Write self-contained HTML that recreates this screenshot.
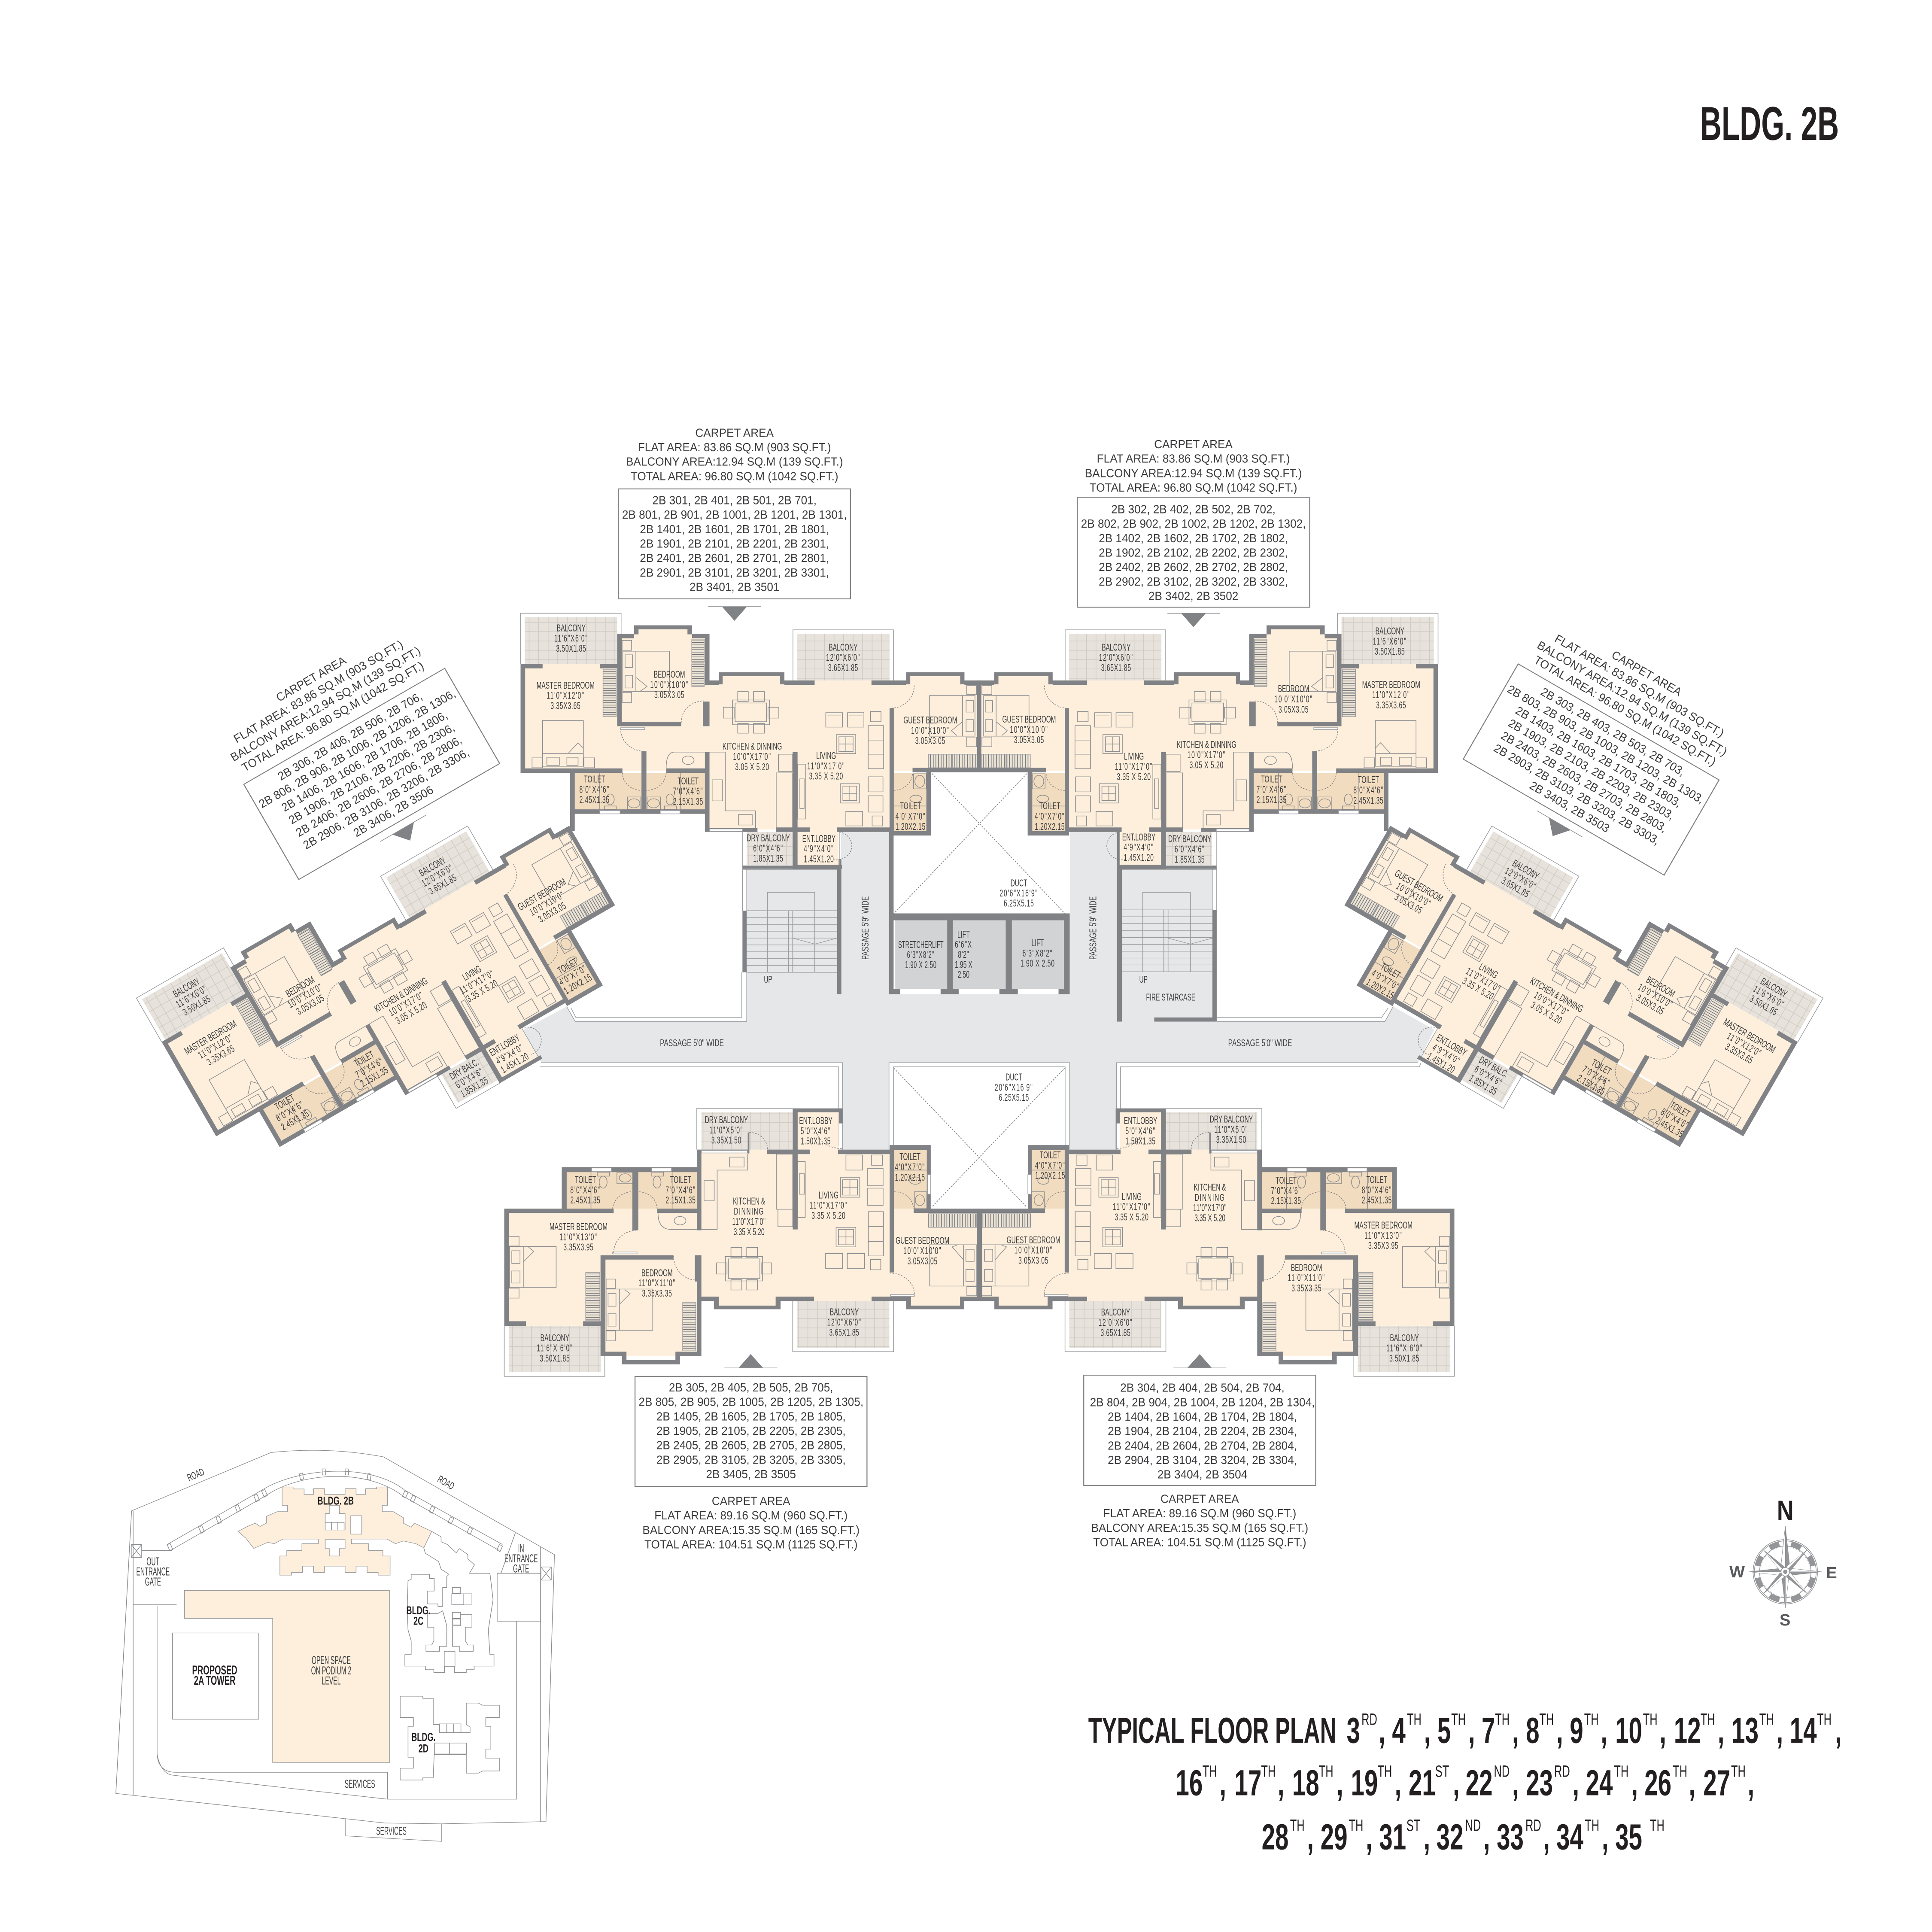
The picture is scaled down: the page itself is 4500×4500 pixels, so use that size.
<!DOCTYPE html>
<html><head><meta charset="utf-8"><title>Bldg 2B Typical Floor Plan</title>
<style>
html,body{margin:0;padding:0;background:#fff}
svg{display:block}
text{font-family:"Liberation Sans",sans-serif;fill:#3c3c3e;text-anchor:middle}
.w{fill:#808285;stroke:none}
.l{fill:none;stroke:#9a9b9e;stroke-width:2}
.k{fill:none;stroke:#8a8b8e;stroke-width:2}
.d{fill:none;stroke:#808285;stroke-width:2;stroke-dasharray:5 4}
.r text,text.r{font-size:33.5px}
.r text tspan:nth-child(2){letter-spacing:3.8px}
.r text tspan:nth-child(3){letter-spacing:1.6px}
.i text{font-size:39px;fill:#3c3c3e}
.p text,text.p{font-size:23.5px}
.p text tspan:nth-child(2){letter-spacing:2.7px}
.p text tspan:nth-child(3){letter-spacing:1.2px}
.s text{font-size:42px}
</style></head><body>
<svg xmlns="http://www.w3.org/2000/svg" width="4500" height="4500" viewBox="0 0 4500 4500">
<defs>
<pattern id="tile" width="29" height="31" patternUnits="userSpaceOnUse"><rect width="29" height="31" fill="#e7e3dc"/><path d="M28 0V31M0 30H29" stroke="#cfcbc2" stroke-width="2" fill="none"/></pattern>
<pattern id="wh" width="20" height="8" patternUnits="userSpaceOnUse"><rect width="20" height="8" fill="#ece4d6"/><path d="M0 3H20" stroke="#6d6e71" stroke-width="2"/></pattern>
<pattern id="wv" width="8" height="20" patternUnits="userSpaceOnUse"><rect width="8" height="20" fill="#ece4d6"/><path d="M3 0V20" stroke="#6d6e71" stroke-width="2"/></pattern>

<g id="U1" transform="translate(1100 950) scale(.7653 .7015)">
<path fill="#fdefdc" d="M147 850H441V750H492V735H669V750H722V905H750V890H950V905H1320V890H1498V905H1543V1205H1283V1400H1115V1517H985V1400H868V1400H722V1205H147Z"/>
<path fill="#f2dcbf" d="M312 1212H515V1333H312ZM530 1212H708V1333H530ZM1283 1212H1382V1405H1283Z"/>
<rect x="160" y="695" width="281" height="155" fill="url(#tile)"/>
<rect x="989" y="750" width="281" height="155" fill="url(#tile)"/>
<rect x="835" y="1408" width="140" height="109" fill="url(#tile)"/>
<path class="l" d="M147 850V682H453V850M976 905V737H1282V905M822 1408V1530H975M1117 1408V1517"/>
<path fill="url(#wh)" d="M398 868H438V945H398ZM398 948H438V1025H398ZM668 768H706V845H668ZM668 850H706V925H668Z"/>
<path fill="url(#wv)" d="M1388 1150H1460V1195H1388ZM1462 1150H1537V1195H1462Z"/>
<path class="l" d="M398 868H438V945H398ZM398 948H438V1025H398ZM668 768H706V845H668ZM668 850H706V925H668ZM1388 1150H1460V1195H1388ZM1462 1150H1537V1195H1462Z"/>
<path class="k" d="M800 980h96v62h-96zM792 970h113v82H792zM808 942h32v33h-32zM856 942h33v33h-33zM764 994h33v36h-33zM900 994h33v36h-33zM808 1048h32v32h-32zM856 1048h33v32h-33z
M1205 1055h47v143h-47zM1205 1103h47M1205 1150h47M1076 1012h51v48h-51zM1081 1020h41M1142 1012h50v48h-50zM1147 1020h40M1212 1008h32v34h-32zM1108 1085h59v63h-59zM1116 1092h43v49h-43zM1137 1092v49M1116 1116h43
M1120 1248h58v64h-58zM1128 1256h42v48h-42zM1149 1256v48M1128 1280h42M1205 1225h45v50h-45zM1205 1288h45v54h-45zM1137 1340h51v48h-51zM1217 1355h31v33h-31z
M722 1143H770V1338H862V1395M730 1235h32v70h-32zM810 1350h42v35h-42zM932 1150h43v57h-43zM925 1212h50v183h-50zM990 1183h25v182h-25zM997 1232h13v98h-13z
M722 1143H615Q590 1143 590 1197
M214 1038h124v152H214zM214 1148h124M227 1160h38v27h-38zM288 1160h34v27h-34zM182 1162h32v33h-32zM340 1162h32v33h-32zM293 1146L322 1112L338 1130
M458 808h142v134H458zM498 808v134M465 820h23v42h-23zM465 888h23v42h-23zM456 772h29v33h-29zM456 945h29v33h-29zM498 895L532 925L512 940
M1392 955h138v135h-138zM1492 955v135M1503 972h22v38h-22zM1503 1035h22v40h-22zM1505 922h30v30h-30zM1505 1093h30v32h-30zM1492 1042L1458 1072L1475 1088
M388 1212v121M633 1212v121M472 1292h41v41h-41zM532 1292h41v41h-41zM1343 1215h39v50h-39zM1283 1322h99M402 1322h36v11h-36zM585 1322h36v11h-36z"/>
<ellipse class="k" cx="657" cy="1170" rx="18" ry="14"/><ellipse class="k" cx="420" cy="1300" rx="12" ry="18"/><ellipse class="k" cx="602" cy="1300" rx="12" ry="18"/><ellipse class="k" cx="492" cy="1313" rx="18" ry="15"/><ellipse class="k" cx="552" cy="1313" rx="18" ry="15"/><ellipse class="k" cx="1362" cy="1240" rx="15" ry="20"/><ellipse class="k" cx="1350" cy="1298" rx="18" ry="12"/>
<path class="w" d="M147 850h14v362h-14zM147 1197h310v15H147zM298 1197h14v150h-14zM298 1333h424v15H298zM515 1140h15v193h-15zM147 850h67v15h-67zM388 850h53v15h-53zM590 1197h132v15H590zM708 1143h14v265h-14zM708 1395h160v13H708zM924 1393h51v15h-51zM975 1143h15v387h-15zM990 1393h37v15h-37zM1110 1393h160v15h-160zM975 1517h150v13H975z
M441 750h14v305h-14zM441 750h51v15h-51zM492 722h14v30h-14zM492 722h177v13H492zM655 722h14v30h-14zM669 750h53v15h-53zM441 1042h195v15H441zM708 750h14v170h-14zM702 975h20v82h-20z
M722 905h28v15h-28zM750 878h200v13H750zM750 878h12v40h-12zM937 878h13v40h-13zM950 905h92v15h-92zM1215 905h105v15h-105zM1320 878h178v13h-178zM1320 878h13v40h-13zM1485 878h13v40h-13zM1498 905h52v15h-52zM1537 905h13v300h-13z
M1270 997h13v423h-13zM1340 1195h210v15h-210zM1382 1195h14v225h-14zM1270 1405h126v15h-126z"/>
<path fill="#fff" stroke="#9a9b9e" stroke-width="2" d="M388 1337h62v11h-62zM572 1337h60v11h-60zM722 1398h100v8H722zM452 1062h73v6h-73z"/>
<path class="d" d="M452 1065A72 72 0 0 0 525 1140M457 1212A58 58 0 0 0 515 1270M590 1212A60 60 0 0 1 530 1270M636 1045A70 70 0 0 1 705 973M1345 922A70 75 0 0 1 1275 997M1283 1270A58 58 0 0 0 1340 1212M1117 1408A40 40 0 0 1 1100 1500"/>
</g>

<g id="U5" transform="translate(1150 2550) scale(.7653 .7015)">
<path fill="#fdefdc" d="M46 767V378H207V257H618V182H910V182H1205V378H1478V685H1432V700H1255V685H873V700H670V685H632V853H567V868H390V853H325V767Z"/>
<path fill="#fdefdc" d="M925 58H1050V182H925Z"/>
<path fill="#f2dcbf" d="M222 257H422V378H222ZM440 257H618V378H440ZM1218 183H1318V378H1218Z"/>
<rect x="632" y="58" width="278" height="124" fill="url(#tile)"/>
<rect x="924" y="685" width="280" height="155" fill="url(#tile)"/>
<rect x="46" y="767" width="280" height="153" fill="url(#tile)"/>
<path class="l" d="M618 182V45H910M910 685V853H1217V685M32 767V935H338V868M1062 45V182"/>
<path fill="url(#wh)" d="M280 590H323V668H280ZM280 672H323V750H280ZM575 690H615V768H575ZM575 772H615V850H575Z"/>
<path fill="url(#wv)" d="M1322 395H1395V440H1322ZM1397 395H1470V440H1397Z"/>
<path class="l" d="M280 590H323V668H280ZM280 672H323V750H280ZM575 690H615V768H575ZM575 772H615V850H575ZM1322 395H1395V440H1322ZM1397 395H1470V440H1397Z"/>
<path class="k" d="M714 545h96v65h-96zM705 537h113v81H705zM722 507h33v34h-33zM770 507h33v34h-33zM678 558h32v37h-32zM814 558h32v37h-32zM722 614h33v34h-33zM770 614h33v34h-33z
M1072 200h50v50h-50zM1150 200h33v34h-33zM1138 245h47v57h-47zM1138 310h47v57h-47zM1055 275h59v65h-59zM1062 282h45v51h-45zM1084 282v51M1062 307h45M1140 388h46v147h-46zM1140 437h46M1140 487h46M1042 440h60v65h-60zM1049 447h46v51h-46zM1072 447v51M1049 472h46M1010 527h52v50h-52zM1076 527h52v50h-52zM1147 547h31v34h-31z
M632 447H680V250H773V197M640 285h31v67h-31zM718 207h44v33h-44zM865 380h45v58h-45zM860 197h50v183h-50zM925 222h23v185h-23zM930 262h15v68h-15z
M500 392Q500 447 540 447H618
M48 504h142v136H48zM90 504v136M55 518h25v42H55zM55 585h25v40H55zM46 470h31v32H46zM46 642h31v33H46zM90 555L122 520L105 505
M342 645h142v137H342zM383 645v137M348 660h24v42h-24zM348 727h24v41h-24zM342 612h28v31h-28zM342 784h28v33h-28zM383 695L415 660L398 647
M1327 498h143v137h-143zM1430 498v137M1437 513h25v40h-25zM1437 580h25v40h-25zM1440 637h30v30h-30zM1430 548L1395 505L1412 498
M296 257v121M543 257v121M375 257h50v38h-50zM315 257h37v13h-37zM481 257h36v13h-36zM1280 322h38v56h-38zM1218 250h100"/>
<ellipse class="k" cx="567" cy="418" rx="18" ry="14"/><ellipse class="k" cx="333" cy="290" rx="12" ry="20"/><ellipse class="k" cx="497" cy="290" rx="12" ry="20"/><ellipse class="k" cx="400" cy="276" rx="18" ry="14"/><ellipse class="k" cx="1283" cy="285" rx="17" ry="12"/><ellipse class="k" cx="1297" cy="350" rx="14" ry="18"/>
<path class="w" d="M32 378h14v389H32zM32 378h333v14H32zM497 378h135v14H497zM207 240h425v17H207zM207 240h15v138h-15zM422 240h18v210h-18zM618 182h14v268h-14zM910 45h152v13H910zM910 45h15v402h-15zM1050 45h12v50h-12zM1048 182h157v15h-157zM925 182h38v15h-38zM832 182h78v15h-78zM618 182h160v12H618zM773 125h5v70h-5z
M1205 167h13v423h-13zM1205 167h125v16h-125zM1318 167h12v225h-12zM1278 378h214v14h-214zM1470 378h15v307h-15z
M618 533h14v335h-14zM612 533h20v87h-20zM632 670h53v15h-53zM670 700h203v12H670zM670 670h15v42h-15zM858 670h15v42h-15zM858 670h117v15H858zM1150 670h105v15h-105zM1255 700h177v12h-177zM1255 670h15v42h-15zM1419 670h13v42h-13zM1432 670h60v15h-60z
M46 752h52v15H46zM272 752h53v15h-53zM325 533h15v335h-15zM325 533h222v14H325zM325 853h65v15h-65zM390 880h177v15H390zM390 853h14v42h-14zM553 853h14v42h-14zM567 853h65v15h-65z"/>
<path fill="#fff" stroke="#9a9b9e" stroke-width="2" d="M298 243h60v12h-60zM481 243h60v12h-60zM1320 265h10v65h-10zM362 522h74v6h-74zM632 185h140v8H632zM1208 663h72v6h-72z"/>
<path class="d" d="M365 525A70 75 0 0 1 432 450M362 378A60 60 0 0 1 422 322M497 378A58 55 0 0 0 440 322M547 535A70 80 0 0 0 615 615M1205 592A75 70 0 0 1 1280 665M1218 322A58 55 0 0 1 1277 378M778 125A55 55 0 0 1 833 182M985 130A75 60 0 0 0 1060 178"/>
</g>
</defs>

<rect width="4500" height="4500" fill="#fff"/>

<!-- title -->
<text transform="translate(4121.5 326) scale(.63 1)" font-size="110" font-weight="700" style="fill:#231f20">BLDG. 2B</text>

<!-- passage -->
<path fill="#e6e7e8" d="M1958.6 1937.7H2070.6V2315.7H2491.8V1937.7H2602V2025.5H2824V2379.5H3225.7L3244.9 2344.4L3340.5 2398.6L3302.3 2475H2600.5V2677.3H2491.8V2475H2070.6V2677.3H1962.7V2475H1261L1218.9 2398.6L1319.9 2344.4L1339.8 2379.5H1739.3V2025.5H1958.6Z"/>

<!-- duct diagonals -->
<path fill="none" stroke="#808285" stroke-width="1.6" stroke-dasharray="4 3" d="M2391.6 1802L2082 2127.6M2171 1802L2480 2127.6M2479.6 2488L2171.6 2810M2082 2488L2390 2810"/>

<!-- left core z3 -->
<g transform="translate(1150 2000) scale(.7653 .6378)">
<path class="l" d="M222 540L248 595H770V415M235 545L250 580H755V415M145 745H1062V1062M140 760H1050V1050M757 40V190M770 40V190M1203 1062V745H1753V1062M1217 1062V760H1739V1062"/>
<path class="l" d="M770 190H1045M770 215H1045M770 240H1045M770 265H1045M770 290H1045M770 315H1045M770 340H1045M770 365H1045M770 390H1045M770 415H1045M833 190V123H977V190M833 190V415M977 190V415M897 190H910V415H897ZM910 290L977 312L1045 290"/>
<path class="w" d="M757 190h13v225h-13zM757 25h301v15H757zM1045 0h13v495h-13zM1203 -100h14v595h-14zM1217 200h536v25H1217zM1380 225h17v250h-17zM1558 225h19v250h-19zM1735 200h18v295h-18zM1203 475h34v20h-34zM1360 475h55v20h-55zM1539 475h56v20h-56zM1719 475h34v20h-34z"/>
<path fill="#d1d3d4" d="M1222 225H1380V475H1222ZM1397 225H1558V475H1397ZM1577 225H1735V475H1577Z"/>
</g>
<!-- right core z4 -->
<g transform="translate(2250 2000) scale(.7653 .6378)">
<path class="l" d="M763 595H1275L1300 540M763 580H1265L1285 545M458 1062V745H1375M470 1062V760H1380L1385 745M750 40V187M763 40V187"/>
<path fill="#e6e7e8" d="M475 40H750V580H475Z"/>
<path class="l" d="M475 187H750M475 212H750M475 237H750M475 262H750M475 288H750M475 313H750M475 338H750M475 363H750M475 388H750M475 413H750M538 187V123H683V187M538 187V413M683 187V413M602 187H615V413H602ZM615 290L683 312L750 290"/>
<path class="w" d="M460 -100h15v695h-15zM460 25h303v15H460zM750 187h13v408h-13zM573 580h190v15H573z"/>
</g>

<!-- stubs joining wings -->
<path class="w" d="M1328 1890h10.7v45H1328zM3223.3 1890h10.7v45h-10.7z"/>

<!-- core labels -->
<g class="p">
<text transform="translate(2144.9 2208) scale(.55 1)"><tspan x="0">STRETCHERLIFT</tspan><tspan x="0" dy="23.6">6'3"X8'2"</tspan><tspan x="0" dy="23.6">1.90 X 2.50</tspan></text>
<text transform="translate(2244.4 2183.8) scale(.6 1)"><tspan x="0">LIFT</tspan><tspan x="0" dy="23.6">6'6"X</tspan><tspan x="0" dy="23.6">8'2"</tspan><tspan x="0" dy="23.6">1.95 X</tspan><tspan x="0" dy="23">2.50</tspan></text>
<text transform="translate(2416.8 2204.2) scale(.6 1)"><tspan x="0">LIFT</tspan><tspan x="0" dy="23.6">6'3"X8'2"</tspan><tspan x="0" dy="23.6">1.90 X 2.50</tspan></text>
<text transform="translate(2373.2 2064.5) scale(.6 1)"><tspan x="0">DUCT</tspan><tspan x="0" dy="23.6">20'6"X16'9"</tspan><tspan x="0" dy="23.6">6.25X5.15</tspan></text>
<text transform="translate(2361.7 2516.7) scale(.6 1)"><tspan x="0">DUCT</tspan><tspan x="0" dy="23.6">20'6"X16'9"</tspan><tspan x="0" dy="23.6">6.25X5.15</tspan></text>
<text transform="translate(2023 2161.4) rotate(-90) scale(.66 1)">PASSAGE 5'9" WIDE</text>
<text transform="translate(2553.6 2161.4) rotate(-90) scale(.66 1)">PASSAGE 5'9" WIDE</text>
<text transform="translate(1611.5 2437) scale(.665 1)">PASSAGE 5'0" WIDE</text>
<text transform="translate(2935 2437) scale(.665 1)">PASSAGE 5'0" WIDE</text>
<text transform="translate(1789 2289) scale(.6 1)">UP</text>
<text transform="translate(2663.3 2289) scale(.6 1)">UP</text>
<text transform="translate(2726.8 2330.4) scale(.6 1)">FIRE STAIRCASE</text>
</g>

<!-- units -->
<use href="#U1"/>
<use href="#U1" transform="translate(4562 0) scale(-1 1)"/>
<use href="#U1" transform="matrix(.866 -.5 .5 .866 -1446.6 1694)"/>
<use href="#U1" transform="translate(4564 0) scale(-1 1) matrix(.866 -.5 .5 .866 -1446.6 1694)"/>
<use href="#U5"/>
<use href="#U5" transform="translate(4562 0) scale(-1 1)"/>

<!-- 301 labels and info -->
<g transform="translate(1100 950) scale(.7653 .7015)">
<g class="r">
<text transform="translate(301 742) scale(.55 1)"><tspan x="0">BALCONY</tspan><tspan x="0" dy="34">11'6"X6'0"</tspan><tspan x="0" dy="34">3.50X1.85</tspan></text>
<text transform="translate(284 932) scale(.55 1)"><tspan x="0">MASTER BEDROOM</tspan><tspan x="0" dy="34">11'0"X12'0"</tspan><tspan x="0" dy="34">3.35X3.65</tspan></text>
<text transform="translate(600 896) scale(.55 1)"><tspan x="0">BEDROOM</tspan><tspan x="0" dy="34">10'0"X10'0"</tspan><tspan x="0" dy="34">3.05X3.05</tspan></text>
<text transform="translate(1394 1048) scale(.55 1)"><tspan x="0">GUEST BEDROOM</tspan><tspan x="0" dy="34">10'0"X10'0"</tspan><tspan x="0" dy="34">3.05X3.05</tspan></text>
<text transform="translate(852 1135) scale(.55 1)"><tspan x="0">KITCHEN &amp; DINNING</tspan><tspan x="0" dy="34">10'0"X17'0"</tspan><tspan x="0" dy="34">3.05 X 5.20</tspan></text>
<text transform="translate(1077 1166) scale(.55 1)"><tspan x="0">LIVING</tspan><tspan x="0" dy="34">11'0"X17'0"</tspan><tspan x="0" dy="34">3.35 X 5.20</tspan></text>
<text transform="translate(1129 806) scale(.55 1)"><tspan x="0">BALCONY</tspan><tspan x="0" dy="34">12'0"X6'0"</tspan><tspan x="0" dy="34">3.65X1.85</tspan></text>
<text transform="translate(372 1244) scale(.55 1)"><tspan x="0">TOILET</tspan><tspan x="0" dy="34">8'0"X4'6"</tspan><tspan x="0" dy="34">2.45X1.35</tspan></text>
<text transform="translate(657 1250) scale(.55 1)"><tspan x="0">TOILET</tspan><tspan x="0" dy="34">7'0"X4'6"</tspan><tspan x="0" dy="34">2.15X1.35</tspan></text>
<text transform="translate(1334 1333) scale(.55 1)"><tspan x="0">TOILET</tspan><tspan x="0" dy="34">4'0"X7'0"</tspan><tspan x="0" dy="34">1.20X2.15</tspan></text>
<text transform="translate(901 1439) scale(.55 1)"><tspan x="0">DRY BALCONY</tspan><tspan x="0" dy="34">6'0"X4'6"</tspan><tspan x="0" dy="34">1.85X1.35</tspan></text>
<text transform="translate(1055 1441) scale(.55 1)"><tspan x="0">ENT.LOBBY</tspan><tspan x="0" dy="34">4'9"X4'0"</tspan><tspan x="0" dy="34">1.45X1.20</tspan></text>
</g>
<rect x="445" y="269" width="706" height="365" fill="none" stroke="#808285" stroke-width="3"/>
<path class="w" d="M760 660H836L798 707Z"/><path class="k" d="M718 660H878"/>
<g class="i" transform="translate(798 0) scale(.877 1)">
<text y="96">CARPET AREA</text><text y="144">FLAT AREA: 83.86 SQ.M (903 SQ.FT.)</text><text y="192">BALCONY AREA:12.94 SQ.M (139 SQ.FT.)</text><text y="240">TOTAL AREA: 96.80 SQ.M (1042 SQ.FT.)</text>
<text y="320">2B 301, 2B 401, 2B 501, 2B 701,</text><text y="368">2B 801, 2B 901, 2B 1001, 2B 1201, 2B 1301,</text><text y="416">2B 1401, 2B 1601, 2B 1701, 2B 1801,</text><text y="464">2B 1901, 2B 2101, 2B 2201, 2B 2301,</text><text y="512">2B 2401, 2B 2601, 2B 2701, 2B 2801,</text><text y="560">2B 2901, 2B 3101, 2B 3201, 2B 3301,</text><text y="608">2B 3401, 2B 3501</text>
</g>
</g>

<!-- 302 labels and info -->
<g transform="translate(2250 950) scale(.7653 .7015)">
<g class="r">
<text transform="translate(457 806) scale(.55 1)"><tspan x="0">BALCONY</tspan><tspan x="0" dy="34">12'0"X6'0"</tspan><tspan x="0" dy="34">3.65X1.85</tspan></text>
<text transform="translate(192 1045) scale(.55 1)"><tspan x="0">GUEST BEDROOM</tspan><tspan x="0" dy="34">10'0"X10'0"</tspan><tspan x="0" dy="34">3.05X3.05</tspan></text>
<text transform="translate(511 1168) scale(.55 1)"><tspan x="0">LIVING</tspan><tspan x="0" dy="34">11'0"X17'0"</tspan><tspan x="0" dy="34">3.35 X 5.20</tspan></text>
<text transform="translate(732 1129) scale(.55 1)"><tspan x="0">KITCHEN &amp; DINNING</tspan><tspan x="0" dy="34">10'0"X17'0"</tspan><tspan x="0" dy="34">3.05 X 5.20</tspan></text>
<text transform="translate(997 944) scale(.55 1)"><tspan x="0">BEDROOM</tspan><tspan x="0" dy="34">10'0"X10'0"</tspan><tspan x="0" dy="34">3.05X3.05</tspan></text>
<text transform="translate(1290 752) scale(.55 1)"><tspan x="0">BALCONY</tspan><tspan x="0" dy="34">11'6"X6'0"</tspan><tspan x="0" dy="34">3.50X1.85</tspan></text>
<text transform="translate(1294 930) scale(.55 1)"><tspan x="0">MASTER BEDROOM</tspan><tspan x="0" dy="34">11'0"X12'0"</tspan><tspan x="0" dy="34">3.35X3.65</tspan></text>
<text transform="translate(930 1244) scale(.55 1)"><tspan x="0">TOILET</tspan><tspan x="0" dy="34">7'0"X4'6"</tspan><tspan x="0" dy="34">2.15X1.35</tspan></text>
<text transform="translate(1225 1246) scale(.55 1)"><tspan x="0">TOILET</tspan><tspan x="0" dy="34">8'0"X4'6"</tspan><tspan x="0" dy="34">2.45X1.35</tspan></text>
<text transform="translate(255 1333) scale(.55 1)"><tspan x="0">TOILET</tspan><tspan x="0" dy="34">4'0"X7'0"</tspan><tspan x="0" dy="34">1.20X2.15</tspan></text>
<text transform="translate(526 1436) scale(.55 1)"><tspan x="0">ENT.LOBBY</tspan><tspan x="0" dy="34">4'9"X4'0"</tspan><tspan x="0" dy="34">1.45X1.20</tspan></text>
<text transform="translate(681 1442) scale(.55 1)"><tspan x="0">DRY BALCONY</tspan><tspan x="0" dy="34">6'0"X4'6"</tspan><tspan x="0" dy="34">1.85X1.35</tspan></text>
</g>
<rect x="339" y="297" width="707" height="365" fill="none" stroke="#808285" stroke-width="3"/>
<path class="w" d="M655 682H730L692 728Z"/><path class="k" d="M613 682H773"/>
<g class="i" transform="translate(692 0) scale(.877 1)">
<text y="134">CARPET AREA</text><text y="182">FLAT AREA: 83.86 SQ.M (903 SQ.FT.)</text><text y="230">BALCONY AREA:12.94 SQ.M (139 SQ.FT.)</text><text y="278">TOTAL AREA: 96.80 SQ.M (1042 SQ.FT.)</text>
<text y="350">2B 302, 2B 402, 2B 502, 2B 702,</text><text y="398">2B 802, 2B 902, 2B 1002, 2B 1202, 2B 1302,</text><text y="446">2B 1402, 2B 1602, 2B 1702, 2B 1802,</text><text y="494">2B 1902, 2B 2102, 2B 2202, 2B 2302,</text><text y="542">2B 2402, 2B 2602, 2B 2702, 2B 2802,</text><text y="590">2B 2902, 2B 3102, 2B 3202, 2B 3302,</text><text y="638">2B 3402, 2B 3502</text>
</g>
</g>

<!-- 305 labels and info -->
<g transform="translate(1150 2550) scale(.7653 .7015)">
<g class="r">
<text transform="translate(708 94) scale(.55 1)"><tspan x="0">DRY BALCONY</tspan><tspan x="0" dy="34">11'0"X5'0"</tspan><tspan x="0" dy="34">3.35X1.50</tspan></text>
<text transform="translate(980 97) scale(.55 1)"><tspan x="0">ENT.LOBBY</tspan><tspan x="0" dy="34">5'0"X4'6"</tspan><tspan x="0" dy="34">1.50X1.35</tspan></text>
<text transform="translate(1267 217) scale(.55 1)"><tspan x="0">TOILET</tspan><tspan x="0" dy="34">4'0"X7'0"</tspan><tspan x="0" dy="34">1.20X2.15</tspan></text>
<text transform="translate(279 293) scale(.55 1)"><tspan x="0">TOILET</tspan><tspan x="0" dy="34">8'0"X4'6"</tspan><tspan x="0" dy="34">2.45X1.35</tspan></text>
<text transform="translate(569 293) scale(.55 1)"><tspan x="0">TOILET</tspan><tspan x="0" dy="34">7'0"X4'6"</tspan><tspan x="0" dy="34">2.15X1.35</tspan></text>
<text transform="translate(777 364) scale(.55 1)"><tspan x="0">KITCHEN &amp;</tspan><tspan x="0" dy="34">DINNING</tspan><tspan x="0" dy="34">11'0"X17'0"</tspan><tspan x="0" dy="34">3.35 X 5.20</tspan></text>
<text transform="translate(1019 344) scale(.55 1)"><tspan x="0">LIVING</tspan><tspan x="0" dy="34">11'0"X17'0"</tspan><tspan x="0" dy="34">3.35 X 5.20</tspan></text>
<text transform="translate(258 449) scale(.55 1)"><tspan x="0">MASTER BEDROOM</tspan><tspan x="0" dy="34">11'0"X13'0"</tspan><tspan x="0" dy="34">3.35X3.95</tspan></text>
<text transform="translate(497 602) scale(.55 1)"><tspan x="0">BEDROOM</tspan><tspan x="0" dy="34">11'0"X11'0"</tspan><tspan x="0" dy="34">3.35X3.35</tspan></text>
<text transform="translate(1305 495) scale(.55 1)"><tspan x="0">GUEST BEDROOM</tspan><tspan x="0" dy="34">10'0"X10'0"</tspan><tspan x="0" dy="34">3.05X3.05</tspan></text>
<text transform="translate(1067 732) scale(.55 1)"><tspan x="0">BALCONY</tspan><tspan x="0" dy="34">12'0"X6'0"</tspan><tspan x="0" dy="34">3.65X1.85</tspan></text>
<text transform="translate(186 818) scale(.55 1)"><tspan x="0">BALCONY</tspan><tspan x="0" dy="34">11'6"X 6'0"</tspan><tspan x="0" dy="34">3.50X1.85</tspan></text>
</g>
<rect x="430" y="935" width="706" height="365" fill="none" stroke="#808285" stroke-width="3"/>
<path class="w" d="M745 907H820L782 861Z"/><path class="k" d="M702 907H863"/>
<g class="i" transform="translate(783 0) scale(.877 1)">
<text y="985">2B 305, 2B 405, 2B 505, 2B 705,</text><text y="1033">2B 805, 2B 905, 2B 1005, 2B 1205, 2B 1305,</text><text y="1081">2B 1405, 2B 1605, 2B 1705, 2B 1805,</text><text y="1129">2B 1905, 2B 2105, 2B 2205, 2B 2305,</text><text y="1177">2B 2405, 2B 2605, 2B 2705, 2B 2805,</text><text y="1225">2B 2905, 2B 3105, 2B 3205, 2B 3305,</text><text y="1273">2B 3405, 2B 3505</text>
<text y="1362">CARPET AREA</text><text y="1410">FLAT AREA: 89.16 SQ.M (960 SQ.FT.)</text><text y="1458">BALCONY AREA:15.35 SQ.M (165 SQ.FT.)</text><text y="1506">TOTAL AREA: 104.51 SQ.M (1125 SQ.FT.)</text>
</g>
</g>

<!-- 304 labels and info -->
<g transform="translate(2300 2550) scale(.7653 .7015)">
<g class="r">
<text transform="translate(466 97) scale(.55 1)"><tspan x="0">ENT.LOBBY</tspan><tspan x="0" dy="34">5'0"X4'6"</tspan><tspan x="0" dy="34">1.50X1.35</tspan></text>
<text transform="translate(742 92) scale(.55 1)"><tspan x="0">DRY BALCONY</tspan><tspan x="0" dy="34">11'0"X5'0"</tspan><tspan x="0" dy="34">3.35X1.50</tspan></text>
<text transform="translate(191 211) scale(.55 1)"><tspan x="0">TOILET</tspan><tspan x="0" dy="34">4'0"X7'0"</tspan><tspan x="0" dy="34">1.20X2.15</tspan></text>
<text transform="translate(909 295) scale(.55 1)"><tspan x="0">TOILET</tspan><tspan x="0" dy="34">7'0"X4'6"</tspan><tspan x="0" dy="34">2.15X1.35</tspan></text>
<text transform="translate(1185 293) scale(.55 1)"><tspan x="0">TOILET</tspan><tspan x="0" dy="34">8'0"X4'6"</tspan><tspan x="0" dy="34">2.45X1.35</tspan></text>
<text transform="translate(677 318) scale(.55 1)"><tspan x="0">KITCHEN &amp;</tspan><tspan x="0" dy="34">DINNING</tspan><tspan x="0" dy="34">11'0"X17'0"</tspan><tspan x="0" dy="34">3.35 X 5.20</tspan></text>
<text transform="translate(439 349) scale(.55 1)"><tspan x="0">LIVING</tspan><tspan x="0" dy="34">11'0"X17'0"</tspan><tspan x="0" dy="34">3.35 X 5.20</tspan></text>
<text transform="translate(140 493) scale(.55 1)"><tspan x="0">GUEST BEDROOM</tspan><tspan x="0" dy="34">10'0"X10'0"</tspan><tspan x="0" dy="34">3.05X3.05</tspan></text>
<text transform="translate(1205 444) scale(.55 1)"><tspan x="0">MASTER BEDROOM</tspan><tspan x="0" dy="34">11'0"X13'0"</tspan><tspan x="0" dy="34">3.35X3.95</tspan></text>
<text transform="translate(971 585) scale(.55 1)"><tspan x="0">BEDROOM</tspan><tspan x="0" dy="34">11'0"X11'0"</tspan><tspan x="0" dy="34">3.35X3.35</tspan></text>
<text transform="translate(390 733) scale(.55 1)"><tspan x="0">BALCONY</tspan><tspan x="0" dy="34">12'0"X6'0"</tspan><tspan x="0" dy="34">3.65X1.85</tspan></text>
<text transform="translate(1269 818) scale(.55 1)"><tspan x="0">BALCONY</tspan><tspan x="0" dy="34">11'6"X 6'0"</tspan><tspan x="0" dy="34">3.50X1.85</tspan></text>
</g>
<rect x="293" y="931" width="706" height="366" fill="none" stroke="#808285" stroke-width="3"/>
<path class="w" d="M608 907H683L646 861Z"/><path class="k" d="M566 907H727"/>
<g class="i" transform="translate(654 0) scale(.877 1)">
<text y="986">2B 304, 2B 404, 2B 504, 2B 704,</text><text y="1034">2B 804, 2B 904, 2B 1004, 2B 1204, 2B 1304,</text><text y="1082">2B 1404, 2B 1604, 2B 1704, 2B 1804,</text><text y="1130">2B 1904, 2B 2104, 2B 2204, 2B 2304,</text><text y="1178">2B 2404, 2B 2604, 2B 2704, 2B 2804,</text><text y="1226">2B 2904, 2B 3104, 2B 3204, 2B 3304,</text><text y="1274">2B 3404, 2B 3504</text>
</g>
<g class="i" transform="translate(646 0) scale(.877 1)">
<text y="1355">CARPET AREA</text><text y="1403">FLAT AREA: 89.16 SQ.M (960 SQ.FT.)</text><text y="1451">BALCONY AREA:15.35 SQ.M (165 SQ.FT.)</text><text y="1499">TOTAL AREA: 104.51 SQ.M (1125 SQ.FT.)</text>
</g>
</g>

<!-- 306 info -->
<g transform="matrix(.866 -.5 .5 .866 -1249 1561)"><g transform="translate(1100 950) scale(.7653 .7015)">
<path d="M445 269H1151V634H445Z" fill="#fff" stroke="#808285" stroke-width="3"/>
<path class="w" d="M760 660H836L798 707Z"/><path class="k" d="M718 660H878"/>
<g class="i" transform="translate(782.5 -5) scale(.877 1)">
<text y="96">CARPET AREA</text><text y="144">FLAT AREA: 83.86 SQ.M (903 SQ.FT.)</text><text y="192">BALCONY AREA:12.94 SQ.M (139 SQ.FT.)</text><text y="240">TOTAL AREA: 96.80 SQ.M (1042 SQ.FT.)</text>
</g>
<g class="i" transform="translate(798 0) scale(.877 1)">
<text y="320">2B 306, 2B 406, 2B 506, 2B 706,</text><text y="368">2B 806, 2B 906, 2B 1006, 2B 1206, 2B 1306,</text><text y="416">2B 1406, 2B 1606, 2B 1706, 2B 1806,</text><text y="464">2B 1906, 2B 2106, 2B 2206, 2B 2306,</text><text y="512">2B 2406, 2B 2606, 2B 2706, 2B 2806,</text><text y="560">2B 2906, 2B 3106, 2B 3206, 2B 3306,</text><text y="608">2B 3406, 2B 3506</text>
</g></g></g>

<!-- 303 info -->
<g transform="matrix(.866 .5 -.5 .866 2858 -160)"><g transform="translate(1100 950) scale(.7653 .7015)">
<path d="M445 269H1151V634H445Z" fill="#fff" stroke="#808285" stroke-width="3"/>
<path class="w" d="M760 660H836L798 707Z"/><path class="k" d="M718 660H878"/>
<g class="i" transform="translate(798 0) scale(.877 1)">
<text y="96">CARPET AREA</text><text y="144">FLAT AREA: 83.86 SQ.M (903 SQ.FT.)</text><text y="192">BALCONY AREA:12.94 SQ.M (139 SQ.FT.)</text><text y="240">TOTAL AREA: 96.80 SQ.M (1042 SQ.FT.)</text>
<text y="320">2B 303, 2B 403, 2B 503, 2B 703,</text><text y="368">2B 803, 2B 903, 2B 1003, 2B 1203, 2B 1303,</text><text y="416">2B 1403, 2B 1603, 2B 1703, 2B 1803,</text><text y="464">2B 1903, 2B 2103, 2B 2203, 2B 2303,</text><text y="512">2B 2403, 2B 2603, 2B 2703, 2B 2803,</text><text y="560">2B 2903, 2B 3103, 2B 3203, 2B 3303,</text><text y="608">2B 3403, 2B 3503</text>
</g></g></g>

<!-- 306 room labels -->
<g class="p">
<text transform="translate(446 2321) rotate(-30) scale(.6 1)"><tspan x="0" y="-16">BALCONY</tspan><tspan x="0" y="8">11'6"X6'0"</tspan><tspan x="0" y="32">3.50X1.85</tspan></text>
<text transform="translate(502 2437) rotate(-30) scale(.6 1)"><tspan x="0" y="-16">MASTER BEDROOM</tspan><tspan x="0" y="8">11'0"X12'0"</tspan><tspan x="0" y="32">3.35X3.65</tspan></text>
<text transform="translate(711 2319) rotate(-30) scale(.6 1)"><tspan x="0" y="-16">BEDROOM</tspan><tspan x="0" y="8">10'0"X10'0"</tspan><tspan x="0" y="32">3.05X3.05</tspan></text>
<text transform="translate(946 2338) rotate(-30) scale(.6 1)"><tspan x="0" y="-16">KITCHEN &amp; DINNING</tspan><tspan x="0" y="8">10'0"X17'0"</tspan><tspan x="0" y="32">3.05 X 5.20</tspan></text>
<text transform="translate(1111 2287) rotate(-30) scale(.6 1)"><tspan x="0" y="-16">LIVING</tspan><tspan x="0" y="8">11'0"X17'0"</tspan><tspan x="0" y="32">3.35 X 5.20</tspan></text>
<text transform="translate(1019 2039) rotate(-30) scale(.6 1)"><tspan x="0" y="-16">BALCONY</tspan><tspan x="0" y="8">12'0"X6'0"</tspan><tspan x="0" y="32">3.65X1.85</tspan></text>
<text transform="translate(1274 2104) rotate(-30) scale(.6 1)"><tspan x="0" y="-16">GUEST BEDROOM</tspan><tspan x="0" y="8">10'0"X10'0"</tspan><tspan x="0" y="32">3.05X3.05</tspan></text>
<text transform="translate(1334 2271) rotate(-30) scale(.6 1)"><tspan x="0" y="-16">TOILET</tspan><tspan x="0" y="8">4'0"X7'0"</tspan><tspan x="0" y="32">1.20X2.15</tspan></text>
<text transform="translate(1187 2455) rotate(-30) scale(.6 1)"><tspan x="0" y="-16">ENT.LOBBY</tspan><tspan x="0" y="8">4'9"X4'0"</tspan><tspan x="0" y="32">1.45X1.20</tspan></text>
<text transform="translate(1093 2511) rotate(-30) scale(.6 1)"><tspan x="0" y="-16">DRY BALC.</tspan><tspan x="0" y="8">6'0"X4'6"</tspan><tspan x="0" y="32">1.85X1.35</tspan></text>
<text transform="translate(860 2487) rotate(-30) scale(.6 1)"><tspan x="0" y="-16">TOILET</tspan><tspan x="0" y="8">7'0"X4'6"</tspan><tspan x="0" y="32">2.15X1.35</tspan></text>
<text transform="translate(675 2588) rotate(-30) scale(.6 1)"><tspan x="0" y="-16">TOILET</tspan><tspan x="0" y="8">8'0"X4'6"</tspan><tspan x="0" y="32">2.45X1.35</tspan></text>
</g>
<!-- 303 room labels -->
<g class="p">
<text transform="translate(4120 2321) rotate(30) scale(.6 1)"><tspan x="0" y="-16">BALCONY</tspan><tspan x="0" y="8">11'6"X6'0"</tspan><tspan x="0" y="32">3.50X1.85</tspan></text>
<text transform="translate(4063 2433) rotate(30) scale(.6 1)"><tspan x="0" y="-16">MASTER BEDROOM</tspan><tspan x="0" y="8">11'0"X12'0"</tspan><tspan x="0" y="32">3.35X3.65</tspan></text>
<text transform="translate(3856 2319) rotate(30) scale(.6 1)"><tspan x="0" y="-16">BEDROOM</tspan><tspan x="0" y="8">10'0"X10'0"</tspan><tspan x="0" y="32">3.05X3.05</tspan></text>
<text transform="translate(3614 2338) rotate(30) scale(.6 1)"><tspan x="0" y="-16">KITCHEN &amp; DINNING</tspan><tspan x="0" y="8">10'0"X17'0"</tspan><tspan x="0" y="32">3.05 X 5.20</tspan></text>
<text transform="translate(3455 2282) rotate(30) scale(.6 1)"><tspan x="0" y="-16">LIVING</tspan><tspan x="0" y="8">11'0"X17'0"</tspan><tspan x="0" y="32">3.35 X 5.20</tspan></text>
<text transform="translate(3542 2046) rotate(30) scale(.6 1)"><tspan x="0" y="-16">BALCONY</tspan><tspan x="0" y="8">12'0"X6'0"</tspan><tspan x="0" y="32">3.65X1.85</tspan></text>
<text transform="translate(3293 2084) rotate(30) scale(.6 1)"><tspan x="0" y="-16">GUEST BEDROOM</tspan><tspan x="0" y="8">10'0"X10'0"</tspan><tspan x="0" y="32">3.05X3.05</tspan></text>
<text transform="translate(3227 2282) rotate(30) scale(.6 1)"><tspan x="0" y="-16">TOILET</tspan><tspan x="0" y="8">4'0"X7'0"</tspan><tspan x="0" y="32">1.20X2.15</tspan></text>
<text transform="translate(3369 2455) rotate(30) scale(.6 1)"><tspan x="0" y="-16">ENT.LOBBY</tspan><tspan x="0" y="8">4'9"X4'0"</tspan><tspan x="0" y="32">1.45X1.20</tspan></text>
<text transform="translate(3467 2506) rotate(30) scale(.6 1)"><tspan x="0" y="-16">DRY BALC.</tspan><tspan x="0" y="8">6'0"X4'6"</tspan><tspan x="0" y="32">1.85X1.35</tspan></text>
<text transform="translate(3718 2506) rotate(30) scale(.6 1)"><tspan x="0" y="-16">TOILET</tspan><tspan x="0" y="8">7'0"X4'6"</tspan><tspan x="0" y="32">2.15X1.35</tspan></text>
<text transform="translate(3901 2605) rotate(30) scale(.6 1)"><tspan x="0" y="-16">TOILET</tspan><tspan x="0" y="8">8'0"X4'6"</tspan><tspan x="0" y="32">2.45X1.35</tspan></text>
</g>

<!-- site plan -->
<g transform="translate(250 3350) scale(.7334 .6378)">
<path class="k" d="M27 1297L77 265L520 52Q700 30 877 68L1420 425L1393 1400L1062 1408L880 1405Z"/>
<path class="k" d="M82 265V1302M82 608H220M110 410H205M190 388L490 190C600 110 830 85 945 190L1255 388M200 410L500 212C610 125 820 105 940 212L1245 410M1250 493L1296 345M1376 398V1400M757 1390V1452L1062 1472V1408M158 612V1150Q160 1220 218 1220H890V1318H1300V668M158 1155Q170 1222 205 1230L890 1318"/>
<path class="k" d="M76 388h33v47H76zM76 388l33 47M109 388l-33 47M1377 470h33v48h-33zM1377 470l33 48M1410 470l-33 48M1238 493h138v175h-138zM207 711h274v315H207zM190 388l8 22 10-3-8-22zM290 325l8 22 10-6-8-22zM345 290l8 22 10-6-8-22zM405 248l8 22 10-6-8-22zM465 210l8 22 10-6-8-22zM490 193l8 22 10-6-8-22zM610 130l3 22 10-3-3-22zM682 112l1 22 10 0-1-22zM755 112l1 22 10 0-1-22zM828 128l-3 22 10 3 3-22zM945 192l-8 20 10 6 8-20zM970 208l-8 20 10 6 8-20zM1030 248l-8 20 10 6 8-20zM1090 287l-8 20 10 6 8-20zM1150 325l-8 20 10 6 8-20zM1245 388l-8 20 10 6 8-20z"/>
<path fill="#fdefdc" stroke="#9a9b9e" stroke-width="2" d="M245 556H896V1184H525V658H245Z"/>
<path fill="#fdefdc" stroke="#9a9b9e" stroke-width="2" d="M555 178H590V185H625V205H655V184H690V205H755V184H790V205H820V184H855V178H890V245H873V268H908L940 290V310L965 325L975 310L1030 340L1005 400L980 385L940 375L915 385L888 368H775V385H830V410H875V430H898V500H860V490H825V467H790V490H755V467H690V490H655V467H620V490H585V500H548V430H570V410H618V385H670V368H558L530 385L510 380L465 402L440 365L415 340L445 322L470 310L485 322L505 310V285L540 268H572V245H555Z"/>
<path fill="#fff" stroke="#9a9b9e" stroke-width="2" d="M705 245H737V275H755V335H692V275H705ZM773 283H808V350H773ZM692 370H755V403H737V430H705V403H692Z"/>
<path class="k" d="M692 307H752V335M712 307V335M732 307V335"/>
<path class="k" d="M1030 340L1060 360V378L1080 388L1108 418L1118 403L1145 425V440L1166 462L1150 493H1215L1218 520L1225 590L1218 640L1210 700L1215 790H1228V832H1165V845H1140V855H1102V832H1071V855H1037V845H1010V832H945V790H965V740L955 700L953 640V600L955 520L965 515V497H1023V512H1038V558H1016V605H1050V614H1065V545H1078V505L1085 497L1060 478L1052 450L1010 420L1005 400
M1016 640H1050L1065 630L1078 685V760H1055V778H1012V755H1030L1037 740V690H1016ZM1096 685V760H1118V778H1162V755H1145L1137 740V690H1158V644H1122V685ZM1096 545h26v22h-26zM1094 568h38v40h-38zM1132 568h26v38h-26zM1096 636h26v22h-26zM1096 660h26v22h-26zM1070 778h34v55h-34z
M930 942H1002V950H1035V1045H1055V1075H1152V1055L1140 1045V967H1178L1192 975H1245V1020H1202V1052H1218V1135H1202V1168H1245V1215H1192L1178 1223H1140V1155H1038L1035 1240H1002V1248H930V1205H972V1165H955V1052H972V1020H930Z
M1055 1043h68v32h-68zM1078 1043v32M1100 1043v32M1039 1113h102v40H1039zM1087 1113v40"/>
<g class="s">
<text transform="translate(145 464) scale(.46 1)"><tspan x="0">OUT</tspan><tspan x="0" dy="37">ENTRANCE</tspan><tspan x="0" dy="37">GATE</tspan></text>
<text transform="translate(1314 416) scale(.46 1)"><tspan x="0">IN</tspan><tspan x="0" dy="37">ENTRANCE</tspan><tspan x="0" dy="37">GATE</tspan></text>
<text transform="translate(711 825) scale(.46 1)"><tspan x="0">OPEN SPACE</tspan><tspan x="0" dy="37">ON PODIUM 2</tspan><tspan x="0" dy="37">LEVEL</tspan></text>
<text transform="translate(802 1276) scale(.457 1)">SERVICES</text>
<text transform="translate(902 1448) scale(.457 1)">SERVICES</text>
<text transform="translate(725 242) scale(.587 1)" font-weight="700" style="fill:#231f20">BLDG. 2B</text>
<text transform="translate(988 643) scale(.587 1)" font-weight="700" style="fill:#231f20"><tspan x="0">BLDG.</tspan><tspan x="0" dy="38">2C</tspan></text>
<text transform="translate(1004 1105) scale(.587 1)" font-weight="700" style="fill:#231f20"><tspan x="0">BLDG.</tspan><tspan x="0" dy="42">2D</tspan></text>
<text transform="translate(341 862) scale(.55 1)" font-size="46" font-weight="700" style="font-size:46px;fill:#231f20"><tspan x="0">PROPOSED</tspan><tspan x="0" dy="38">2A TOWER</tspan></text>
</g>
</g>
<text class="p" transform="translate(459 3442) rotate(-24) scale(.6 1)">ROAD</text>
<text class="p" transform="translate(1034.7 3460) rotate(30) scale(.6 1)">ROAD</text>

<!-- compass -->
<text transform="translate(4158.3 3541) scale(.82 1)" font-size="66" font-weight="700" style="fill:#231f20">N</text>
<g font-size="38" font-weight="700">
<text x="4046" y="3674" style="fill:#58595b">W</text><text x="4266" y="3676" style="fill:#58595b">E</text><text x="4157.7" y="3786" style="fill:#58595b">S</text>
</g>
<g transform="translate(4158.3 3661)">
<circle r="75" fill="none" stroke="#939598" stroke-width="1.5"/><circle r="72" fill="none" stroke="#939598" stroke-width="1.5"/><circle r="60" fill="#fff" stroke="#939598" stroke-width="1.5"/><circle r="58" fill="none" stroke="#939598" stroke-width="1"  stroke-dasharray="1 3"/>
<circle r="66" fill="none" stroke="#939598" stroke-width="11" stroke-dasharray="24 27.84" stroke-dashoffset="-13.7"/>
<g stroke="#8a8b8e" stroke-width="1" fill="#fff">
<g><path d="M0-106L-10-16 0-10Z"/><path d="M0-106L10-16 0-10Z" fill="#939598"/></g>
<g transform="rotate(90) scale(.8)"><path d="M0-106L-10-16 0-10Z"/><path d="M0-106L10-16 0-10Z" fill="#939598"/></g>
<g transform="rotate(180) scale(.8)"><path d="M0-106L-10-16 0-10Z"/><path d="M0-106L10-16 0-10Z" fill="#939598"/></g>
<g transform="rotate(270) scale(.8)"><path d="M0-106L-10-16 0-10Z"/><path d="M0-106L10-16 0-10Z" fill="#939598"/></g>
<g transform="rotate(45) scale(.68)"><path d="M0-106L-10-16 0-10Z"/><path d="M0-106L10-16 0-10Z" fill="#939598"/></g>
<g transform="rotate(135) scale(.68)"><path d="M0-106L-10-16 0-10Z"/><path d="M0-106L10-16 0-10Z" fill="#939598"/></g>
<g transform="rotate(225) scale(.68)"><path d="M0-106L-10-16 0-10Z"/><path d="M0-106L10-16 0-10Z" fill="#939598"/></g>
<g transform="rotate(315) scale(.68)"><path d="M0-106L-10-16 0-10Z"/><path d="M0-106L10-16 0-10Z" fill="#939598"/></g>
</g>
<circle r="10" fill="#fff" stroke="#939598" stroke-width="1.5"/><circle r="5" fill="#939598"/>
</g>

<!-- typical floor plan -->
<g transform="translate(2450 3500) scale(.385 .574)" font-weight="700" font-size="147">
<text transform="translate(220 975) scale(.925 1)" style="text-anchor:start;fill:#231f20">TYPICAL FLOOR PLAN</text>
<text y="975" style="text-anchor:start;fill:#231f20"><tspan x="1783">3</tspan><tspan x="1977">,</tspan><tspan x="2058">4</tspan><tspan x="2251">,</tspan><tspan x="2332">5</tspan><tspan x="2519">,</tspan><tspan x="2600">7</tspan><tspan x="2784">,</tspan><tspan x="2868">8</tspan><tspan x="3052">,</tspan><tspan x="3133">9</tspan><tspan x="3320">,</tspan><tspan x="3408">10</tspan><tspan x="3676">,</tspan><tspan x="3763">12</tspan><tspan x="4028">,</tspan><tspan x="4112">13</tspan><tspan x="4383">,</tspan><tspan x="4464">14</tspan><tspan x="4738">,</tspan></text>
<text y="1187" style="text-anchor:start;fill:#231f20"><tspan x="749">16</tspan><tspan x="1014">,</tspan><tspan x="1105">17</tspan><tspan x="1366">,</tspan><tspan x="1454">18</tspan><tspan x="1722">,</tspan><tspan x="1809">19</tspan><tspan x="2074">,</tspan><tspan x="2158">21</tspan><tspan x="2426">,</tspan><tspan x="2503">22</tspan><tspan x="2784">,</tspan><tspan x="2868">23</tspan><tspan x="3149">,</tspan><tspan x="3230">24</tspan><tspan x="3505">,</tspan><tspan x="3585">26</tspan><tspan x="3853">,</tspan><tspan x="3941">27</tspan><tspan x="4209">,</tspan></text>
<text y="1407" style="text-anchor:start;fill:#231f20"><tspan x="1269">28</tspan><tspan x="1544">,</tspan><tspan x="1625">29</tspan><tspan x="1899">,</tspan><tspan x="1980">31</tspan><tspan x="2248">,</tspan><tspan x="2326">32</tspan><tspan x="2610">,</tspan><tspan x="2691">33</tspan><tspan x="2972">,</tspan><tspan x="3052">34</tspan><tspan x="3327">,</tspan><tspan x="3408">35</tspan></text>
<g font-size="66" font-weight="400" style="font-size:66px">
<text y="902" style="text-anchor:start;fill:#231f20"><tspan x="1873">RD</tspan><tspan x="2148">TH</tspan><tspan x="2416">TH</tspan><tspan x="2681">TH</tspan><tspan x="2949">TH</tspan><tspan x="3220">TH</tspan><tspan x="3576">TH</tspan><tspan x="3924">TH</tspan><tspan x="4280">TH</tspan><tspan x="4629">TH</tspan></text>
<text y="1112" style="text-anchor:start;fill:#231f20"><tspan x="911">TH</tspan><tspan x="1266">TH</tspan><tspan x="1615">TH</tspan><tspan x="1970">TH</tspan><tspan x="2319">ST</tspan><tspan x="2674">ND</tspan><tspan x="3039">RD</tspan><tspan x="3401">TH</tspan><tspan x="3756">TH</tspan><tspan x="4109">TH</tspan></text>
<text y="1332" style="text-anchor:start;fill:#231f20"><tspan x="1441">TH</tspan><tspan x="1796">TH</tspan><tspan x="2145">ST</tspan><tspan x="2500">ND</tspan><tspan x="2865">RD</tspan><tspan x="3224">TH</tspan><tspan x="3618">TH</tspan></text>
</g>
</g>
</svg>
</body></html>
